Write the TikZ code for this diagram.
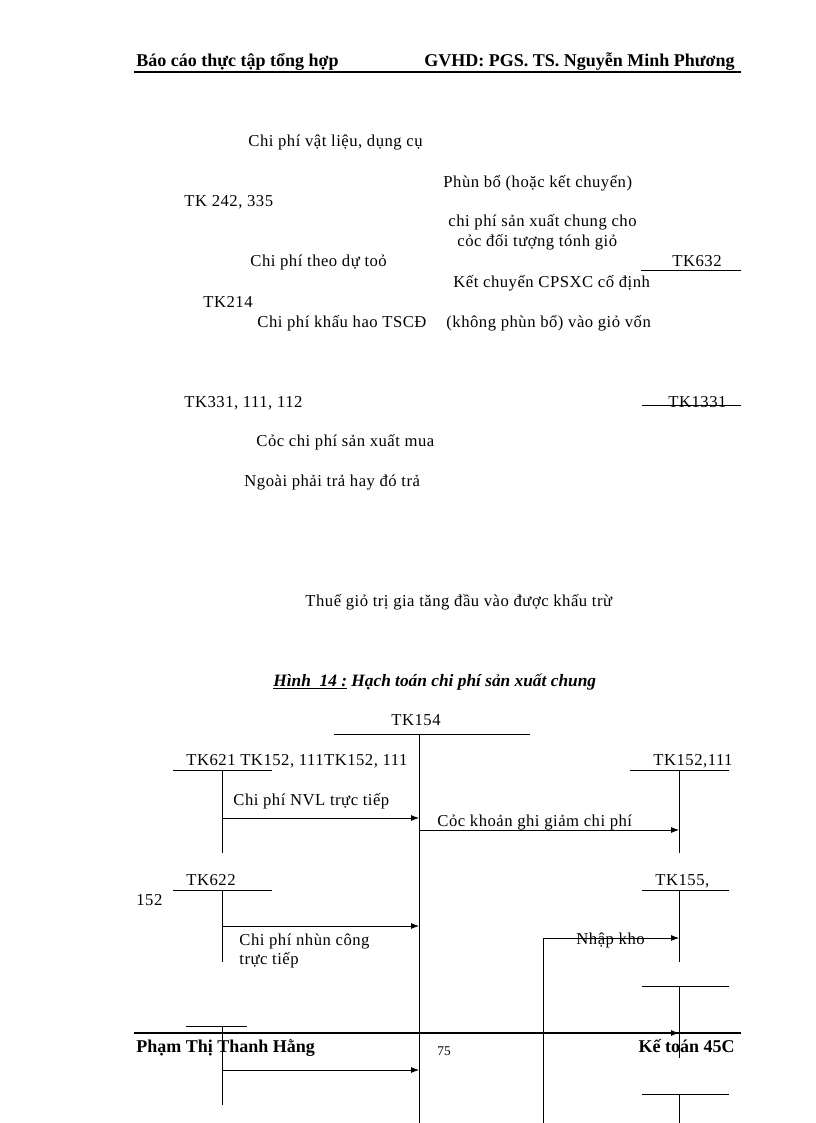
\documentclass[tikz,border=0pt]{standalone}
\usepackage{fontspec}
\usetikzlibrary{arrows.meta}
\setmainfont{Liberation Serif}
\newfontfamily\vnfont[LetterSpace=3]{Liberation Serif}
\begin{document}
\begin{tikzpicture}[x=0.75pt,y=-0.75pt,>={Latex[length=6pt,width=4.5pt]},line width=0.6pt,
                    txt/.style={anchor=base west,inner sep=0pt,font=\vnfont\fontsize{12.5}{15}\selectfont},
                    head/.style={anchor=base west,inner sep=0pt,font=\fontsize{13.5}{16}\selectfont\bfseries},
                    rule/.style={line width=1.6pt}]

  \useasboundingbox (0,0) rectangle (816,1123);

  % header and footer
  \node[head] (school) at (136,67) {Báo cáo thực tập tổng hợp};
  \node[head,anchor=base east] (tutor) at (735,67) {GVHD: PGS. TS. Nguyễn Minh Phương};
  \draw[rule] (134,72) -- (741,72);
  \node[head] (author) at (136,1052) {Phạm Thị Thanh Hằng};
  \node[txt,font=\fontsize{10}{12}\selectfont] (page) at (437,1055) {75};
  \node[head,anchor=base east] (class) at (735,1052) {Kế toán 45C};

  % upper part
  \node[txt] (vl) at (248,147) {Chi phí vật liệu, dụng cụ};
  \node[txt] (pb1) at (443,188) {Phùn bổ (hoặc kết chuyển)};
  \node[txt] (tk242) at (184,207) {TK 242, 335};
  \node[txt] (pb2) at (448,227) {chi phí sản xuất chung cho};
  \node[txt] (pb3) at (457,247) {cỏc đối tượng tónh giỏ};
  \node[txt] (dt) at (250,267) {Chi phí theo dự toỏ};
  \node[txt] (tk632) at (672,267) {TK632};
  \node[txt] (kc1) at (453,287) {Kết chuyển CPSXC cố định};
  \node[txt] (tk214) at (203,307) {TK214};
  \node[txt] (kh) at (257,327) {Chi phí khấu hao TSCĐ};
  \node[txt] (kc2) at (446,327) {(không phùn bổ) vào giỏ vốn};
  \node[txt] (tk331) at (184,407) {TK331, 111, 112};
  \node[txt] (tk1331) at (668,407) {TK1331};
  \node[txt] (mua1) at (256,446) {Cỏc chi phí sản xuất mua};
  \node[txt] (mua2) at (244,486) {Ngoài phải trả hay đó trả};
  \node[txt] (vat) at (305,606) {Thuế giỏ trị gia tăng đầu vào được khấu trừ};
  \draw (641,270) -- (741,270);
  \draw (642,405) -- (741,405);

  % caption
  \node[txt,font=\fontsize{13}{15}\selectfont\bfseries\itshape] (cap) at (273,686)
    {\underline{Hình\ \ 14 :} Hạch toán chi phí sản xuất chung};

  % accounts
  \node[txt,anchor=base] (tk154) at (416,725) {TK154};
  \node[txt] (tk621) at (186,765) {TK621 TK152, 111TK152, 111};
  \node[txt] (tk152) at (653,765) {TK152,111};
  \node[txt] (tk622) at (186,885) {TK622};
  \node[txt] (n152) at (136,905) {152};
  \node[txt] (tk155) at (655,885) {TK155,};

  \draw (334,734) -- (530,734);
  \draw (173,770) -- (272,770);
  \draw (630,770) -- (729,770);
  \draw (173,890) -- (272,890);
  \draw (642,890) -- (729,890);
  \draw (642,986) -- (729,986);
  \draw (642,1094) -- (729,1094);
  \draw (186,1026) -- (247,1026);

  \coordinate (c154) at (419,734);
  \coordinate (c621) at (222,770);
  \coordinate (c152) at (679,770);
  \coordinate (c622) at (222,890);
  \coordinate (c155) at (679,890);
  \coordinate (c627) at (222,1026);
  \coordinate (c632) at (679,986);
  \coordinate (c1331) at (679,1094);
  \coordinate (kho) at (543,1123);

  \draw (c154) -- (419,1123);
  \draw (c621) -- (222,853);
  \draw (c152) -- (679,853);
  \draw (c622) -- (222,962);
  \draw (c155) -- (679,962);
  \draw (c627) -- (222,1105);
  \draw (c632) -- (679,1058);
  \draw (c1331) -- (679,1123);

  \draw[->] (c621 |- 0,818) -- (c154 |- 0,818);
  \draw[->] (c154 |- 0,830) -- (c152 |- 0,830);
  \draw[->] (c622 |- 0,926) -- (c154 |- 0,926);
  \draw[->] (kho) |- (c155 |- 0,938);
  \draw[->] (c627 |- 0,1070) -- (c154 |- 0,1070);
  \draw[->] (c154 |- 0,1033) -- (c632 |- 0,1033);
  \draw[rule] (134,1033) -- (741,1033);

  \node[txt] (nvl) at (233,805) {Chi phí NVL trực tiếp};
  \node[txt] (giam) at (437,826) {Cỏc khoản ghi giảm chi phí};
  \node[txt] (nc1) at (239,945) {Chi phí nhùn công};
  \node[txt] (nc2) at (239,964) {trực tiếp};
  \node[txt] (nk) at (576,944) {Nhập kho};
\end{tikzpicture}
\end{document}
